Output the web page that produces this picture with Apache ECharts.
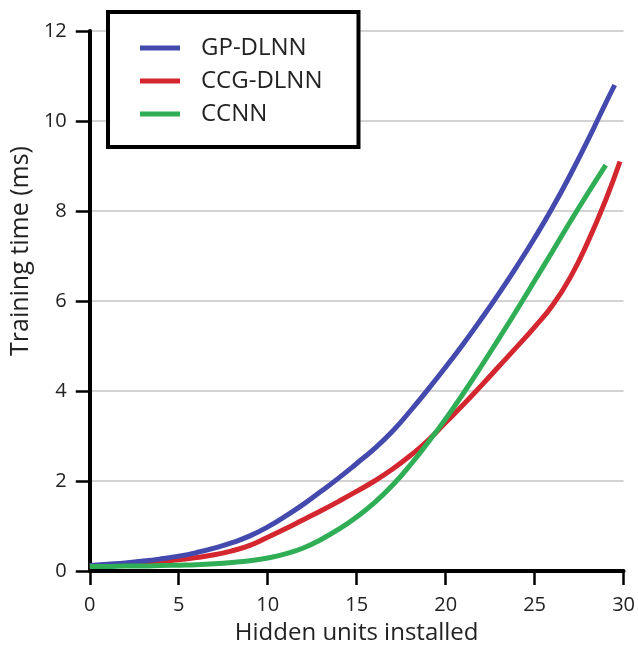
<!DOCTYPE html>
<html>
<head>
<meta charset="utf-8">
<script src="https://cdn.jsdelivr.net/npm/echarts@6/dist/echarts.min.js"></script>
<style>
html,body{margin:0;padding:0;background:#fff;}
#chart{width:638px;height:652px;}
</style>
</head>
<body>
<div id="chart"></div>
<script>
var seriesNames = ['GP-DLNN', 'CCG-DLNN', 'CCNN'];
var xTicks = [0, 5, 10, 15, 20, 25, 30];
var yTicks = [0, 2, 4, 6, 8, 10, 12];

var gpX = [0,1,2,3,4,5,6,7,8,9,10,11,12,13,14,15,16,17,18,19,20,21,22,23,24,25,26,27,28,29,29.5];
var gpY = [0.12,0.15,0.18,0.22,0.27,0.33,0.41,0.51,0.63,0.78,0.98,1.22,1.48,1.77,2.07,2.39,2.72,3.10,3.55,4.03,4.53,5.05,5.60,6.17,6.77,7.40,8.07,8.80,9.58,10.40,10.80];

var ccgX = [0,1,2,3,4,5,6,7,8,9,10,11,12,13,14,15,16,17,18,19,20,21,22,23,24,25,26,27,28,29,29.8];
var ccgY = [0.10,0.12,0.14,0.17,0.21,0.25,0.30,0.36,0.45,0.57,0.75,0.94,1.14,1.34,1.55,1.77,2.00,2.26,2.56,2.90,3.30,3.70,4.12,4.55,4.98,5.42,5.90,6.52,7.32,8.25,9.10];

var ccnnX = [0,1,2,3,4,5,6,7,8,9,10,11,12,13,14,15,16,17,18,19,20,21,22,23,24,25,26,27,28,29];
var ccnnY = [0.10,0.10,0.11,0.11,0.12,0.13,0.14,0.16,0.19,0.23,0.29,0.38,0.51,0.70,0.93,1.20,1.52,1.90,2.35,2.85,3.38,3.95,4.55,5.17,5.80,6.45,7.10,7.76,8.40,9.02];

var colors = ['#4349ad', '#d4262f', '#2fae55'];

function pairs(xs, ys) { return xs.map(function (x, i) { return [x, ys[i]]; }); }

var font = "'Open Sans', sans-serif";
var chart = echarts.init(document.getElementById('chart'));
chart.setOption({
  animation: false,
  backgroundColor: '#fff',
  color: colors,
  grid: { left: 84, right: 13, top: 31, bottom: 81, containLabel: false },
  legend: {
    orient: 'vertical',
    left: 108,
    top: 12,
    padding: [23, 36, 20, 32],
    backgroundColor: '#fff',
    borderColor: '#000',
    borderWidth: 4,
    borderRadius: 0,
    itemWidth: 40,
    itemHeight: 5,
    itemGap: 7,
    icon: 'rect',
    data: seriesNames,
    textStyle: { fontFamily: font, fontSize: 24, color: '#222', lineHeight: 26, padding: [0, 0, 0, 16] }
  },
  xAxis: {
    type: 'value',
    min: xTicks[0],
    max: xTicks[xTicks.length - 1],
    interval: 5,
    name: 'Hidden units installed',
    nameLocation: 'middle',
    nameGap: 50,
    nameTextStyle: { fontFamily: font, fontSize: 24, color: '#222' },
    axisLine: { show: true, lineStyle: { color: '#000', width: 4 } },
    axisTick: { show: true, length: 14, lineStyle: { color: '#000', width: 2.5 } },
    axisLabel: { margin: 24, fontFamily: font, fontSize: 20, color: '#222' },
    splitLine: { show: false }
  },
  yAxis: {
    type: 'value',
    min: yTicks[0],
    max: yTicks[yTicks.length - 1],
    interval: 2,
    name: 'Training time (ms)',
    nameLocation: 'middle',
    nameGap: 42,
    nameTextStyle: { fontFamily: font, fontSize: 25, color: '#222', padding: [0, 0, 0, 100] },
    axisLine: { show: true, lineStyle: { color: '#000', width: 4 } },
    axisTick: { show: true, length: 14, lineStyle: { color: '#000', width: 2.5 } },
    axisLabel: { margin: 23, fontFamily: font, fontSize: 20, color: '#222' },
    splitLine: { show: true, lineStyle: { color: '#c4c4c4', width: 1.5 } }
  },
  series: [
    { name: seriesNames[0], type: 'line', data: pairs(gpX, gpY), smooth: true, showSymbol: false, lineStyle: { width: 5, color: colors[0] }, z: 3 },
    { name: seriesNames[1], type: 'line', data: pairs(ccgX, ccgY), smooth: true, showSymbol: false, lineStyle: { width: 5, color: colors[1] }, z: 2 },
    { name: seriesNames[2], type: 'line', data: pairs(ccnnX, ccnnY), smooth: true, showSymbol: false, lineStyle: { width: 5, color: colors[2] }, z: 4 }
  ]
});
</script>
</body>
</html>
